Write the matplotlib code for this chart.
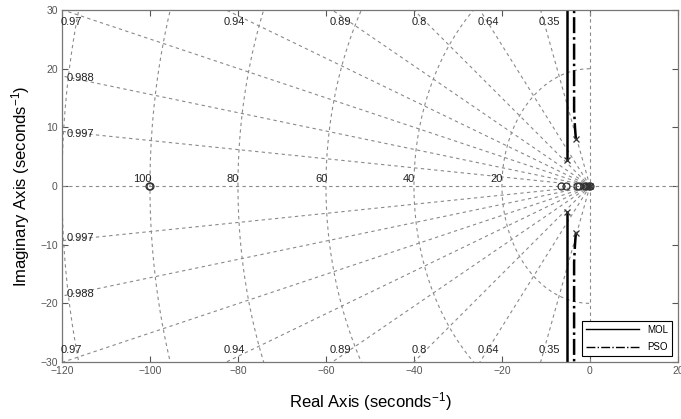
import numpy as np
import matplotlib.pyplot as plt

plt.rcParams['font.family'] = ['Liberation Sans', 'DejaVu Sans']
plt.rcParams['mathtext.fontset'] = 'custom'
plt.rcParams['mathtext.rm'] = 'Liberation Sans'
plt.rcParams['mathtext.it'] = 'Liberation Sans'
plt.rcParams['mathtext.default'] = 'regular'

# 网格参数
zeta = [0.35, 0.64, 0.8, 0.89, 0.94, 0.97, 0.988, 0.997]
wn = [20, 40, 60, 80, 100, 120]
wn_labels = [20, 40, 60, 80, 100]

# 根轨迹分支（上半平面，下半平面取共轭）
mol_re = [-5.2, -5.2, -5.2]
mol_im = [4.4, 10.0, 32.0]
pso_re = [-3.2, -3.4, -3.6, -3.6]
pso_im = [8.0, 10.0, 13.0, 32.0]

# 极点、零点
mol_poles_re = [-5.2]
mol_poles_im = [4.4]
pso_poles_re = [-3.2]
pso_poles_im = [8.0]
mol_zeros = [-100.0, -6.6, -3.0, -1.2, -0.3]
pso_zeros = [-100.3, -5.4, -2.5, -0.8, 0.0]
real_poles = [-0.5, -1.5, 0.0]

xlim = (-120, 20)
ylim = (-30, 30)

fig = plt.figure(figsize=(6.81, 4.19), dpi=100)
ax = fig.add_axes([0.091, 0.136, 0.9045, 0.840])
gc = '#8a8a8a'
fs = 8

# 等阻尼线
for z in zeta:
    th = np.arccos(z)
    r = np.array([0, 300])
    ax.plot(-r * np.cos(th), r * np.sin(th), ls=(0, (3, 3)), color=gc, lw=0.8)
    ax.plot(-r * np.cos(th), -r * np.sin(th), ls=(0, (3, 3)), color=gc, lw=0.8)
    xt = -ylim[1] / np.tan(th)
    if xt >= xlim[0]:
        ax.text(xt - 0.5, 28, str(z), fontsize=fs, ha='left', va='center', color='#222')
        ax.text(xt - 0.5, -28, str(z), fontsize=fs, ha='left', va='center', color='#222')
    else:
        yt = -xlim[0] * np.tan(th)
        ax.text(-119, yt - 0.4, str(z), fontsize=fs, ha='left', va='center', color='#222')
        ax.text(-119, -yt + 0.4, str(z), fontsize=fs, ha='left', va='center', color='#222')

# 虚轴和实轴
ax.axhline(0, ls=(0, (3, 3)), color=gc, lw=0.8)
ax.axvline(0, ls=(0, (3, 3)), color=gc, lw=0.8)

# 等自然频率圆
t = np.linspace(np.pi / 2, 3 * np.pi / 2, 300)
for w in wn:
    ax.plot(w * np.cos(t), w * np.sin(t), ls=(0, (3, 3)), color=gc, lw=0.8)
for w in wn_labels:
    ax.text(-w + 0.3, 0.3, str(w), fontsize=fs, ha='right', va='bottom', color='#222')

# 根轨迹
ax.plot(mol_re, mol_im, 'k-', lw=1.8, label='MOL')
ax.plot(mol_re, -np.array(mol_im), 'k-', lw=1.8)
ax.plot(pso_re, pso_im, 'k-.', lw=1.8, label='PSO')
ax.plot(pso_re, -np.array(pso_im), 'k-.', lw=1.8)

for re, im in zip(mol_poles_re + pso_poles_re, mol_poles_im + pso_poles_im):
    ax.plot([re, re], [im, -im], 'x', color='#333', ms=5, mew=0.9)
ax.plot(real_poles, np.zeros(len(real_poles)), 'x', color='#333', ms=5, mew=0.9)
ax.plot(mol_zeros, np.zeros(len(mol_zeros)), 'o', mfc='none', mec='#333', ms=5, mew=0.9)
ax.plot(pso_zeros, np.zeros(len(pso_zeros)), 'o', mfc='none', mec='#333', ms=5, mew=0.9)

ax.set_xlim(xlim)
ax.set_ylim(ylim)
ax.set_xticks(range(-120, 21, 20))
ax.set_yticks(range(-30, 31, 10))
ax.tick_params(direction='in', top=True, right=True, labelsize=7.5, colors='#555',
               length=4, width=0.8, pad=3)
for s in ax.spines.values():
    s.set_color('#777')
    s.set_linewidth(0.9)

ax.set_xlabel('Real Axis (seconds$^{-1}$)', fontsize=12, labelpad=10)
ax.set_ylabel('Imaginary Axis (seconds$^{-1}$)', fontsize=12, labelpad=6)

leg = ax.legend(loc='lower right', fontsize=7, handlelength=5.5, fancybox=False,
                framealpha=1, edgecolor='k', borderaxespad=0.6, labelspacing=0.8)
leg.get_frame().set_linewidth(0.8)
for h in leg.get_lines():
    h.set_linewidth(1.0)

fig.savefig('out.png', dpi=100)
